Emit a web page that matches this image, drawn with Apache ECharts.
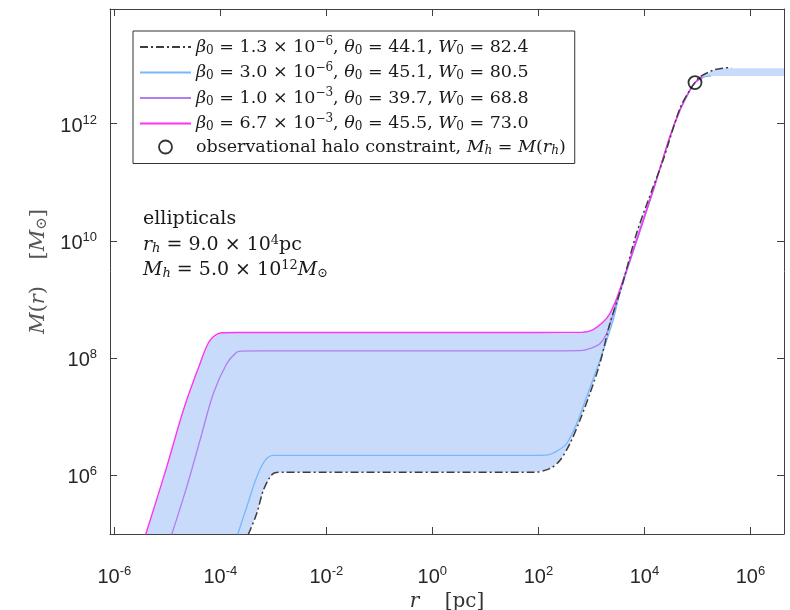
<!DOCTYPE html>
<html>
<head>
<meta charset="utf-8">
<script src="https://cdn.jsdelivr.net/npm/echarts@6/dist/echarts.min.js"></script>
<style>
  html, body { margin: 0; padding: 0; background: #fff; }
  #chart { width: 790px; height: 610px; }
</style>
</head>
<body>
<div id="chart"></div>
<script>
// Enclosed mass M(r) for four core-halo solutions; r in pc, M in solar masses.
const curveA = [ // beta0 = 1.3e-6 (dash-dot)
  [3.37e-4, 9.8e4], [4.84e-4, 2.21e5], [6.46e-4, 5.52e5], [8.63e-4, 9.31e5],
  [1.07e-3, 1.11e6], [1.6e-3, 1.13e6], [1e-2, 1.13e6], [1, 1.13e6], [80, 1.13e6],
  [164, 1.3e6], [254, 1.79e6], [392, 3.46e6], [605, 8.61e6], [935, 2.47e7],
  [1442, 8.02e7], [2230, 3.86e8], [3715, 1.63e9], [7096, 1.33e10], [1.46e4, 8.28e10],
  [2.25e4, 2.37e11], [4.66e4, 1.8e12], [7.18e4, 3.75e12], [9e4, 5.0e12],
  [1.11e5, 6.24e12], [1.98e5, 8.13e12], [3.0e5, 8.8e12], [4.4e5, 9.0e12]
];
const curveB = [ // beta0 = 3.0e-6
  [2.12e-4, 9.8e4], [3.14e-4, 2.86e5], [4.84e-4, 9.31e5], [6.95e-4, 1.79e6],
  [9.95e-4, 2.19e6], [1.6e-3, 2.2e6], [1e-2, 2.2e6], [1, 2.2e6], [100, 2.2e6],
  [164, 2.28e6], [254, 2.79e6], [340, 3.46e6], [525, 7.53e6], [809, 2.15e7],
  [1442, 9.14e7], [2570, 4.4e8], [3428, 1.26e9], [7096, 9.6e9], [1.46e4, 7.0e10],
  [3.01e4, 5.7e11], [4.66e4, 1.66e12], [7.18e4, 3.62e12], [9e4, 5.0e12],
  [1.25e5, 6.1e12], [1.8e5, 6.5e12]
];
const curveC = [ // beta0 = 1.0e-3
  [1.21e-5, 9.8e4], [2.32e-5, 6.3e5], [4.13e-5, 3.94e6], [7.36e-5, 2.47e7],
  [1.32e-4, 8.0e7], [2.03e-4, 1.26e8], [2.52e-4, 1.32e8], [5e-4, 1.33e8],
  [1e-2, 1.33e8], [1, 1.33e8], [100, 1.33e8], [605, 1.34e8], [935, 1.45e8],
  [1442, 1.76e8], [1928, 2.61e8], [2570, 5.73e8], [3428, 1.43e9], [7096, 1.0e10],
  [1.46e4, 7.2e10], [3.01e4, 5.85e11], [4.66e4, 1.68e12], [7.18e4, 3.66e12],
  [9e4, 5.0e12], [1.25e5, 6.1e12]
];
const curveD = [ // beta0 = 6.7e-3
  [3.91e-6, 9.8e4], [9.73e-6, 1.38e6], [2.0e-5, 1.28e7], [4.13e-5, 8.0e7],
  [6.38e-5, 2.0e8], [1.06e-4, 2.71e8], [2e-4, 2.74e8], [1e-2, 2.74e8], [1, 2.74e8],
  [100, 2.74e8], [689, 2.76e8], [1079, 3.06e8], [1667, 4.11e8], [2230, 5.73e8],
  [2979, 1.03e9], [3963, 2.12e9], [7096, 1.02e10], [1.46e4, 7.28e10],
  [3.01e4, 5.9e11], [4.66e4, 1.69e12], [7.18e4, 3.7e12], [9e4, 5.0e12],
  [1.2e5, 6.2e12]
];

// Envelope of the family of solutions (shaded band)
const bandUpper = [
  [3.91e-6, 9.8e4], [9.73e-6, 1.38e6], [2.0e-5, 1.28e7], [4.13e-5, 8.0e7],
  [6.38e-5, 2.0e8], [1.06e-4, 2.71e8], [2e-4, 2.74e8], [100, 2.74e8], [689, 2.76e8],
  [1079, 3.06e8], [1667, 4.11e8], [2230, 5.73e8], [2979, 1.03e9], [3963, 2.12e9],
  [7096, 1.33e10], [1.46e4, 8.28e10], [2.25e4, 2.37e11], [4.66e4, 1.8e12],
  [7.18e4, 3.75e12], [9e4, 5.0e12], [1.11e5, 6.24e12], [1.98e5, 8.13e12],
  [3.0e5, 8.8e12], [4.3e6, 8.8e12]
];
const bandLower = [
  [3.37e-4, 9.8e4], [4.84e-4, 2.21e5], [6.46e-4, 5.52e5], [8.63e-4, 9.31e5],
  [1.07e-3, 1.11e6], [1.6e-3, 1.13e6], [80, 1.13e6], [164, 1.3e6], [254, 1.79e6],
  [392, 3.46e6], [605, 8.61e6], [935, 2.47e7], [1442, 8.02e7], [2570, 4.4e8],
  [3428, 1.26e9], [7096, 9.6e9], [1.46e4, 7.0e10], [3.01e4, 5.7e11],
  [4.66e4, 1.66e12], [7.18e4, 3.62e12], [9e4, 5.0e12], [1.25e5, 6.1e12],
  [1.8e5, 6.4e12], [2.6e5, 6.5e12], [4.3e6, 6.5e12]
];

// Halo constraint point (r_h, M_h)
const haloR = [9.0e4];
const haloM = [5.0e12];

const seriesNames = ['beta0=1.3e-6', 'beta0=3.0e-6', 'beta0=1.0e-3', 'beta0=6.7e-3', 'halo constraint'];
const legendLabels = [
  '{i|β}{sub|0} = 1.3 × 10{sup|−6}, {i|θ}{sub|0} = 44.1, {i|W}{sub|0} = 82.4',
  '{i|β}{sub|0} = 3.0 × 10{sup|−6}, {i|θ}{sub|0} = 45.1, {i|W}{sub|0} = 80.5',
  '{i|β}{sub|0} = 1.0 × 10{sup|−3}, {i|θ}{sub|0} = 39.7, {i|W}{sub|0} = 68.8',
  '{i|β}{sub|0} = 6.7 × 10{sup|−3}, {i|θ}{sub|0} = 45.5, {i|W}{sub|0} = 73.0',
  'observational halo constraint, {i|M}{subi|h} = {i|M}({i|r}{subi|h})'
];

const xTicks = [1e-6, 1e-4, 1e-2, 1, 1e2, 1e4, 1e6];
const yTicks = [1e6, 1e8, 1e10, 1e12];
const xRange = [8.3e-7, 4.3e6];
const yRange = [1e5, 9e13];

const SERIF = 'DejaVu Serif';
const SANS = 'Liberation Sans';
const frameColor = '#404040';

const mathRich = (size, color) => ({
  i: { fontFamily: SERIF, fontSize: size, fontStyle: 'italic', color: color },
  sub: { fontFamily: SERIF, fontSize: Math.round(size * 0.7), color: color, padding: [7, 0, 0, 0] },
  subi: { fontFamily: SERIF, fontSize: Math.round(size * 0.7), fontStyle: 'italic', color: color, padding: [7, 0, 0, 0] },
  sup: { fontFamily: SERIF, fontSize: Math.round(size * 0.7), color: color, padding: [0, 0, 10, 0] }
});

const powerLabel = (v) => {
  const e = Math.round(Math.log10(v));
  return '{b|10}{s|' + e + '}';
};
const tickRich = {
  b: { fontFamily: SANS, fontSize: 20, color: '#262626', padding: [5, 0, 0, 0] },
  s: { fontFamily: SANS, fontSize: 13, color: '#262626', padding: [0, 0, 7, 0] }
};

function logAxis(range, ticks, position, withLabels, extra) {
  return Object.assign({
    type: 'log',
    logBase: 10,
    min: range[0],
    max: range[1],
    position: position,
    axisLine: { show: true, onZero: false, lineStyle: { color: frameColor, width: 1 } },
    axisTick: { show: true, inside: true, length: 7, customValues: ticks,
      lineStyle: { color: frameColor, width: 1 } },
    axisLabel: withLabels ? {
      show: true, customValues: ticks, formatter: powerLabel, rich: tickRich,
      margin: position === 'bottom' ? 28 : 13
    } : { show: false },
    minorTick: { show: false },
    splitLine: { show: false },
    minorSplitLine: { show: false }
  }, extra || {});
}

const chart = echarts.init(document.getElementById('chart'), null, { renderer: 'canvas' });

const lineSeries = (name, data, color, width, type, z) => ({
  name: name,
  type: 'line',
  data: data,
  symbol: 'none',
  smooth: 0.3,
  clip: true,
  z: z,
  lineStyle: { color: color, width: width, type: type },
  itemStyle: { color: color },
  emphasis: { disabled: true }
});

// legend entries for curves show only the line sample
const hiddenMark = { color: 'rgba(0,0,0,0)', borderWidth: 0, opacity: 0 };

const annotationRich = {
  i: { fontFamily: SERIF, fontSize: 19, fontStyle: 'italic', fill: '#1a1a1a' },
  subi: { fontFamily: SERIF, fontSize: 13, fontStyle: 'italic', fill: '#1a1a1a', padding: [7, 0, 0, 0] },
  sub: { fontFamily: SERIF, fontSize: 13, fill: '#1a1a1a', padding: [7, 0, 0, 0] },
  sup: { fontFamily: SERIF, fontSize: 13, fill: '#1a1a1a', padding: [0, 0, 10, 0] }
};

chart.setOption({
  animation: false,
  backgroundColor: '#ffffff',
  grid: { left: 110, right: 6, top: 9, bottom: 76, containLabel: false, outerBoundsMode: 'none' },
  xAxis: [
    logAxis(xRange, xTicks, 'bottom', true, {
      name: '{i|r}    [pc]',
      nameLocation: 'middle',
      nameGap: 44,
      nameTextStyle: { fontFamily: SERIF, fontSize: 20, color: '#333', rich: mathRich(20, '#333') }
    }),
    logAxis(xRange, xTicks, 'top', false)
  ],
  yAxis: [
    logAxis(yRange, yTicks, 'left', true, {
      name: '{i|M}({i|r})    [{i|M}{sub|⊙}]',
      nameLocation: 'middle',
      nameGap: 60,
      nameRotate: 90,
      nameTextStyle: { fontFamily: SERIF, fontSize: 21, color: '#555', rich: mathRich(21, '#555') }
    }),
    logAxis(yRange, yTicks, 'right', false)
  ],
  legend: {
    orient: 'vertical',
    left: 133,
    top: 31,
    padding: [5, 9, 7, 6],
    itemGap: 5,
    itemWidth: 51,
    itemHeight: 13,
    backgroundColor: '#ffffff',
    borderColor: '#333',
    borderWidth: 1,
    borderRadius: 0,
    selectedMode: false,
    textStyle: { fontFamily: SERIF, fontSize: 17.5, color: '#1a1a1a', rich: mathRich(17.5, '#1a1a1a') },
    formatter: (name) => legendLabels[seriesNames.indexOf(name)],
    data: [
      { name: seriesNames[0], itemStyle: hiddenMark },
      { name: seriesNames[1], itemStyle: hiddenMark },
      { name: seriesNames[2], itemStyle: hiddenMark },
      { name: seriesNames[3], itemStyle: hiddenMark },
      { name: seriesNames[4], icon: 'circle',
        itemStyle: { color: 'rgba(255,255,255,0)', borderColor: '#000', borderWidth: 1.8 } }
    ]
  },
  graphic: [
    { type: 'text', left: 143, top: 210, z: 100,
      style: { text: 'ellipticals', fontFamily: SERIF, fontSize: 19, fill: '#1a1a1a' } },
    { type: 'text', left: 143, top: 234, z: 100,
      style: { text: '{i|r}{subi|h} = 9.0 × 10{sup|4}pc', fontFamily: SERIF, fontSize: 19,
        fill: '#1a1a1a', rich: annotationRich } },
    { type: 'text', left: 143, top: 259, z: 100,
      style: { text: '{i|M}{subi|h} = 5.0 × 10{sup|12}{i|M}{sub|⊙}', fontFamily: SERIF, fontSize: 19,
        fill: '#1a1a1a', rich: annotationRich } }
  ],
  series: [
    {
      name: 'band',
      type: 'custom',
      coordinateSystem: 'cartesian2d',
      silent: true,
      z: 1,
      data: [[1, 1e6]],
      renderItem: function (params, api) {
        const up = bandUpper.map((p) => api.coord(p));
        const lo = bandLower.slice().reverse().map((p) => api.coord(p));
        const cs = params.coordSys;
        return {
          type: 'polygon',
          shape: { points: up.concat(lo) },
          style: { fill: '#c9dbfa', stroke: null, lineWidth: 0 },
          clipPath: { type: 'rect', shape: { x: cs.x, y: cs.y, width: cs.width, height: cs.height } }
        };
      }
    },
    lineSeries(seriesNames[1], curveB, '#78b8fb', 1.3, 'solid', 3),
    lineSeries(seriesNames[2], curveC, '#b27cf4', 1.3, 'solid', 4),
    lineSeries(seriesNames[3], curveD, '#ff33f2', 1.4, 'solid', 5),
    lineSeries(seriesNames[0], curveA, '#3d3d3d', 1.5, [8, 3, 2, 3], 6),
    {
      name: seriesNames[4],
      type: 'scatter',
      data: haloR.map((r, k) => [r, haloM[k]]),
      symbol: 'circle',
      symbolSize: 13,
      z: 8,
      itemStyle: { color: 'rgba(255,255,255,0)', borderColor: '#000', borderWidth: 1.8 },
      emphasis: { disabled: true }
    }
  ]
});
</script>
</body>
</html>
